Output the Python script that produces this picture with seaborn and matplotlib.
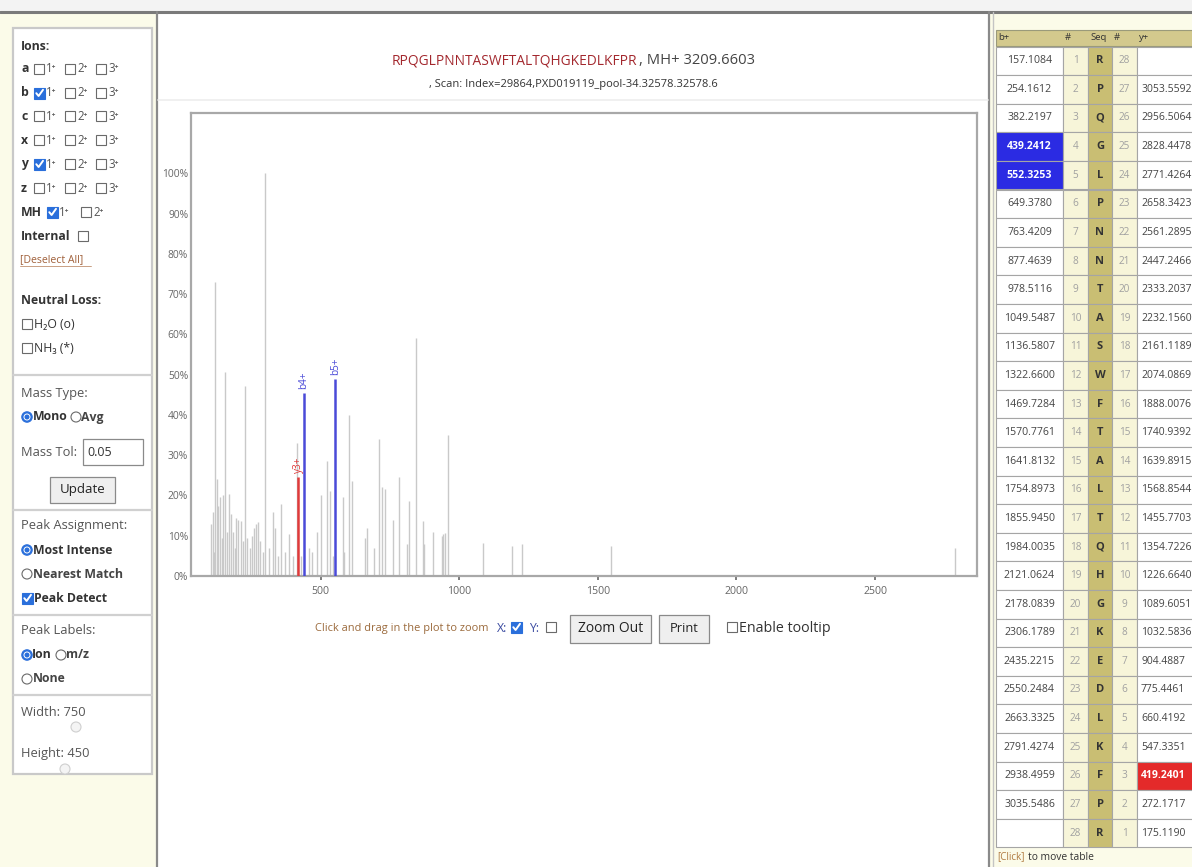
import numpy as np
import pandas as pd
import matplotlib
matplotlib.use("Agg")
import matplotlib.pyplot as plt
from matplotlib.patches import Rectangle, Circle
import seaborn as sns

# ---------------- data ----------------
peptide = "RPQGLPNNTASWFTALTQHGKEDLKFPR"
precursor_mh = "3209.6603"
scan_info = ", Scan: Index=29864,PXD019119_pool-34.32578.32578.6"

# unassigned peaks (m/z, relative intensity %)
peak_mz = [104.5, 110.6, 115.0, 119.0, 125.0, 131.0, 137.0, 143.0, 149.0, 155.0,
           161.0, 169.5, 176.7, 185.0, 190.0, 194.7, 203.0, 211.5, 220.0, 228.3,
           235.6, 245.0, 251.0, 259.6, 266.8, 275.0, 281.0, 290.0, 299.0, 312.0,
           327.0, 335.0, 345.0, 357.0, 370.0, 387.0, 400.0, 413.5, 430.0, 459.0,
           470.0, 485.6, 501.0, 521.6, 533.7, 545.0, 579.0, 584.0, 603.0, 613.0,
           660.0, 666.0, 692.0, 711.5, 720.0, 732.0, 762.0, 783.7, 810.0, 819.7,
           843.8, 868.0, 874.0, 904.0, 936.0, 942.0, 948.0, 958.0, 1086.6, 1192.0,
           1225.0, 1548.0, 2789.0]
peak_int = [12.9, 15.8, 6.0, 73.0, 24.0, 17.4, 19.5, 9.5, 20.0, 50.6,
            11.0, 20.3, 15.4, 11.0, 7.0, 14.5, 14.0, 13.7, 8.7, 47.3,
            9.5, 7.0, 10.0, 12.0, 13.0, 13.3, 8.7, 6.0, 100.0, 7.0,
            16.0, 12.0, 5.0, 17.8, 6.0, 10.4, 5.0, 33.0, 5.0, 7.0,
            6.0, 11.0, 20.0, 28.6, 21.0, 5.0, 19.5, 6.0, 40.0, 23.6,
            9.5, 12.0, 7.0, 34.0, 22.0, 21.6, 14.0, 24.5, 8.0, 18.7,
            59.0, 13.7, 8.0, 11.0, 10.0, 10.4, 10.8, 35.0, 8.3, 7.5,
            8.0, 7.5, 7.0]

# assigned fragment ions
ion_labels = ["y3+", "b4+", "b5+"]
ion_mz = [419.2401, 439.2412, 552.3253]
ion_int = [24.5, 45.5, 49.0]
ion_series = ["y", "b", "b"]

x_ticks = [500, 1000, 1500, 2000, 2500]
y_ticks = [0, 10, 20, 30, 40, 50, 60, 70, 80, 90, 100]
y_tick_labels = [f"{v}%" for v in y_ticks]

# fragment table
b_ions = ["157.1084", "254.1612", "382.2197", "439.2412", "552.3253", "649.3780",
          "763.4209", "877.4639", "978.5116", "1049.5487", "1136.5807", "1322.6600",
          "1469.7284", "1570.7761", "1641.8132", "1754.8973", "1855.9450", "1984.0035",
          "2121.0624", "2178.0839", "2306.1789", "2435.2215", "2550.2484", "2663.3325",
          "2791.4274", "2938.4959", "3035.5486", ""]
y_ions = ["", "3053.5592", "2956.5064", "2828.4478", "2771.4264", "2658.3423",
          "2561.2895", "2447.2466", "2333.2037", "2232.1560", "2161.1189", "2074.0869",
          "1888.0076", "1740.9392", "1639.8915", "1568.8544", "1455.7703", "1354.7226",
          "1226.6640", "1089.6051", "1032.5836", "904.4887", "775.4461", "660.4192",
          "547.3351", "419.2401", "272.1717", "175.1190"]
b_matched = [4, 5]
y_matched = [3]

# ---------------- style ----------------
sns.set_theme(style="white")
FONT = ["Open Sans", "DejaVu Sans"]
plt.rcParams["font.family"] = FONT

W, H = 1192, 867
fig = plt.figure(figsize=(W / 100, H / 100), dpi=100)
fig.patch.set_facecolor("white")

bg = fig.add_axes([0, 0, 1, 1])
bg.set_xlim(0, W)
bg.set_ylim(H, 0)
bg.axis("off")

BLUE_UI = "#2a6fdb"
TXT = "#444444"
LB = 8.8   # bold label size
LN = 9.3   # normal label size


def rect(x, y, w, h, fc="none", ec="none", lw=1.0, z=1):
    bg.add_patch(Rectangle((x, y), w, h, facecolor=fc, edgecolor=ec, lw=lw, zorder=z))


def txt(x, y, s, size=7.5, color=TXT, weight="normal", ha="left", z=5, **kw):
    bg.text(x, y, s, fontsize=size, color=color, fontweight=weight, ha=ha,
            va="center", family=FONT, zorder=z, **kw)


def checkbox(x, y, checked=False):
    if checked:
        rect(x, y - 5.5, 11, 11, fc=BLUE_UI, ec=BLUE_UI, lw=0.8, z=4)
        bg.plot([x + 2.3, x + 4.6, x + 9.0], [y + 0.2, y + 3.0, y - 3.2],
                color="white", lw=1.4, zorder=5, solid_capstyle="round")
    else:
        rect(x, y - 5, 10, 10, fc="white", ec="#6a6a6a", lw=0.8, z=4)


def radio(cx, cy, selected=False):
    if selected:
        bg.add_patch(Circle((cx, cy), 5.2, facecolor=BLUE_UI, edgecolor=BLUE_UI, lw=0.8, zorder=4))
        bg.add_patch(Circle((cx, cy), 3.0, facecolor=BLUE_UI, edgecolor="white", lw=0.7, zorder=5))
    else:
        bg.add_patch(Circle((cx, cy), 5.0, facecolor="white", edgecolor="#6a6a6a", lw=0.8, zorder=4))


def button(x, y, w, h, label, size=9.5):
    rect(x, y, w, h, fc="#efefef", ec="#8a8a8a", lw=0.9, z=4)
    txt(x + w / 2, y + h / 2, label, size=size, color="#222", ha="center")


# ---------------- page background ----------------
rect(0, 0, W, 12, fc="#f3f3f3", z=0)
rect(0, 12, 157, H - 12, fc="#fbfbe9", z=0)
rect(157, 12, 832, H - 12, fc="white", z=0)
rect(989, 12, W - 989, H - 12, fc="#fbfbe9", z=0)
bg.plot([0, W], [12, 12], color="#7a7a7a", lw=2.2, zorder=2)
bg.plot([157, 157], [12, H], color="#8a8a8a", lw=1.6, zorder=2)
bg.plot([989, 989], [12, H], color="#8a8a8a", lw=1.6, zorder=2)
bg.plot([992.5, 992.5], [12, H], color="#c4c4c4", lw=1.0, zorder=2)
bg.plot([158, 988], [100, 100], color="#eeeeee", lw=1.2, zorder=2)

# ---------------- left control panel ----------------
rect(13, 28, 139, 746, fc="white", ec="#c9c9c9", lw=1.6, z=1)
for ysep in [375, 510, 615, 695]:
    bg.plot([13, 152], [ysep, ysep], color="#d0d0d0", lw=1.6, zorder=2)

txt(21, 46, "Ions:", size=LB, weight="bold", color="#333")
ion_rows = [("a", 69, [False, False, False]), ("b", 93, [True, False, False]),
            ("c", 116, [False, False, False]), ("x", 140, [False, False, False]),
            ("y", 164, [True, False, False]), ("z", 188, [False, False, False])]
for letter, yy, checks in ion_rows:
    txt(21, yy, letter, size=LB, weight="bold", color="#333")
    for k, (bx, chk) in enumerate(zip([34, 65, 96], checks)):
        checkbox(bx, yy, chk)
        txt(bx + 12, yy, f"{k + 1}\u207a", size=8.3, color="#555")
txt(21, 212, "MH", size=LB, weight="bold", color="#333")
checkbox(47, 212, True)
txt(59, 212, "1\u207a", size=8.3, color="#555")
checkbox(81, 212, False)
txt(93, 212, "2\u207a", size=8.3, color="#555")
txt(21, 237, "Internal", size=LB, weight="bold", color="#333")
checkbox(78, 236, False)
txt(20, 260, "[Deselect All]", size=7.6, color="#a0603a")
bg.plot([20, 91], [266, 266], color="#c09070", lw=0.6, zorder=5)

txt(21, 300, "Neutral Loss:", size=LB, weight="bold", color="#333")
checkbox(22, 324, False)
txt(34, 324, "H\u2082O (o)", size=8.8, color="#333")
checkbox(22, 348, False)
txt(34, 348, "NH\u2083 (*)", size=8.8, color="#333")

txt(21, 393, "Mass Type:", size=LN, color="#555")
radio(27, 417, True)
txt(33, 417, "Mono", size=LB, weight="bold", color="#333")
radio(76, 417, False)
txt(81, 417, "Avg", size=LB, weight="bold", color="#444")
txt(21, 452, "Mass Tol:", size=LN, color="#555")
rect(83, 439, 60, 26, fc="white", ec="#8a8a8a", lw=0.9, z=4)
txt(87, 452, "0.05", size=9, color="#333")
button(50, 477, 65, 26, "Update", size=9.5)

txt(21, 526, "Peak Assignment:", size=LN, color="#555")
radio(27, 550, True)
txt(33, 550, "Most Intense", size=LB, weight="bold", color="#333")
radio(27, 574, False)
txt(33, 574, "Nearest Match", size=LB, weight="bold", color="#444")
checkbox(22, 598, True)
txt(34, 598, "Peak Detect", size=LB, weight="bold", color="#333")

txt(21, 631, "Peak Labels:", size=LN, color="#555")
radio(27, 655, True)
txt(32, 655, "Ion", size=LB, weight="bold", color="#333")
radio(61, 655, False)
txt(66, 655, "m/z", size=LB, weight="bold", color="#444")
radio(27, 679, False)
txt(33, 679, "None", size=LB, weight="bold", color="#444")

txt(21, 713, "Width: 750", size=LN, color="#555")
bg.add_patch(Circle((76, 727), 5, facecolor="#f4f4f4", edgecolor="#cfcfcf", lw=0.8, zorder=4))
txt(21, 754, "Height: 450", size=LN, color="#555")
bg.add_patch(Circle((65, 769), 5, facecolor="#f4f4f4", edgecolor="#cfcfcf", lw=0.8, zorder=4))

# ---------------- title ----------------
txt(637, 61, peptide, size=9.9, color="#a3282e", ha="right")
txt(639, 61, f", MH+ {precursor_mh}", size=10.6, color="#444")
txt(573, 85, scan_info, size=8.0, color="#333", ha="center")

# ---------------- controls under plot ----------------
txt(315, 628, "Click and drag in the plot to zoom", size=7.9, color="#9b6a3c")
txt(497, 628, "X:", size=8.8, color="#3a4aa0")
checkbox(511, 627, True)
txt(529, 628, "Y:", size=8.8, color="#3a4aa0")
checkbox(546, 627, False)
button(570, 615, 81, 28, "Zoom Out", size=10)
button(659, 615, 50, 28, "Print", size=9.3)
checkbox(727, 627, False)
txt(739, 628, "Enable tooltip", size=10.3, color="#333")

# ---------------- fragment table ----------------
col_edges = [996, 1063, 1088, 1112, 1137, 1230]
col_fill = ["white", "#f7f5d9", "#c9be73", "#f7f5d9", "white"]
head_y, head_h = 30, 16
row_y0, row_h = 46.5, 28.6
n_rows = len(peptide)
rect(col_edges[0], head_y, col_edges[-1] - col_edges[0], head_h, fc="#d3c98d", ec="#9a9a7a", lw=0.8, z=2)
for lbl, xl in zip(["b+", "#", "Seq", "#", "y+"], [998, 1065, 1090, 1114, 1139]):
    txt(xl, head_y + head_h / 2, lbl, size=6.8, color="#333")
for i in range(n_rows):
    y0 = row_y0 + i * row_h
    for c in range(5):
        fc = col_fill[c]
        if c == 0 and (i + 1) in b_matched:
            fc = "#2b2be3"
        if c == 4 and (n_rows - i) in y_matched:
            fc = "#e42a2a"
        rect(col_edges[c], y0, col_edges[c + 1] - col_edges[c], row_h, fc=fc, ec="#a5a5a5", lw=0.8, z=2)
    bcol = "white" if (i + 1) in b_matched else "#444"
    bw = "bold" if (i + 1) in b_matched else "normal"
    txt(1029.5, y0 + row_h / 2, b_ions[i], size=7.6, color=bcol, weight=bw, ha="center")
    txt(1075.5, y0 + row_h / 2, str(i + 1), size=7.2, color="#a0a0a0", ha="center")
    txt(1100, y0 + row_h / 2, peptide[i], size=8.0, color="#333", weight="bold", ha="center")
    txt(1124.5, y0 + row_h / 2, str(n_rows - i), size=7.2, color="#a0a0a0", ha="center")
    ycol = "white" if (n_rows - i) in y_matched else "#444"
    yw = "bold" if (n_rows - i) in y_matched else "normal"
    txt(1141, y0 + row_h / 2, y_ions[i], size=7.5, color=ycol, weight=yw)
txt(997, 857, "[Click]", size=7.0, color="#b07a40")
txt(1028, 857, "to move table", size=7.4, color="#333")

# ---------------- spectrum ----------------
ax_l, ax_r, ax_t, ax_b = 191, 977, 113, 576
ax = fig.add_axes([ax_l / W, 1 - ax_b / H, (ax_r - ax_l) / W, (ax_b - ax_t) / H])
ax.set_facecolor("white")

peaks = pd.DataFrame({"mz": peak_mz, "intensity": peak_int})
ax.vlines(peaks["mz"], 0, peaks["intensity"], color="#c9c9c9", lw=1.0, zorder=2)

ions = pd.DataFrame({"label": ion_labels, "mz": ion_mz, "intensity": ion_int, "series": ion_series})
series_colors = {"b": "#4a4ad8", "y": "#e03a3a"}
for _, r in ions.iterrows():
    c = series_colors[r["series"]]
    ax.vlines(r["mz"], 0, r["intensity"], color=c, lw=1.8, zorder=3)
    ax.text(r["mz"], r["intensity"] + 1.0, r["label"], rotation=90, ha="center",
            va="bottom", color=c, fontsize=7.2, family=FONT, zorder=4)

ax.set_xlim(32, 2868)
ax.set_ylim(0, 115)
ax.set_xticks(x_ticks)
ax.set_xticklabels([str(v) for v in x_ticks])
ax.set_yticks(y_ticks)
ax.set_yticklabels(y_tick_labels)
ax.tick_params(axis="y", length=0, pad=2, labelsize=7.4, labelcolor="#666")
ax.tick_params(axis="x", length=3, width=1.2, color="#666", direction="out",
               pad=4, labelsize=7.6, labelcolor="#666", bottom=True)
for sp in ax.spines.values():
    sp.set_color("#a8a8a8")
    sp.set_linewidth(1.6)
ax.set_xlabel("")
ax.set_ylabel("")
ax.grid(False)

fig.savefig("out.png", dpi=100)
